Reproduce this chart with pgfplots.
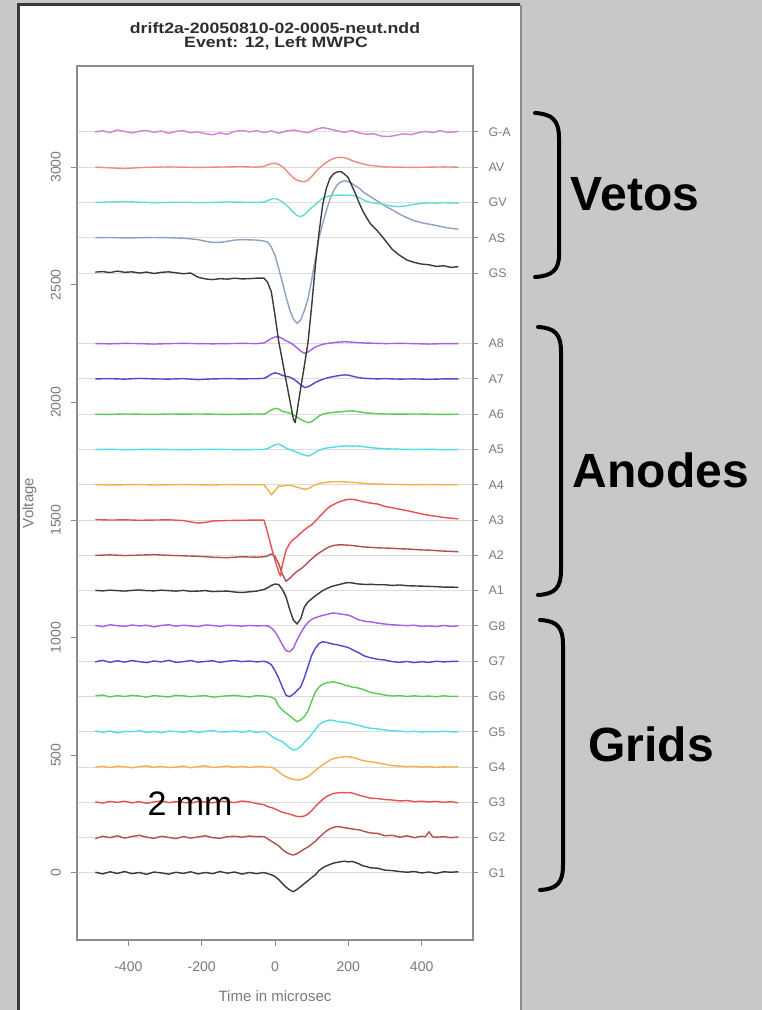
\documentclass[border=0pt]{standalone}
\usepackage{fontspec}
\setmainfont{Liberation Sans}
\usepackage{graphicx}
\usepackage{pgfplots}
\usepackage{pgfplotstable}
\pgfplotsset{compat=1.18}

\definecolor{bgGray}{HTML}{C8C8C8}
\definecolor{frameDark}{HTML}{3A3A3A}
\definecolor{frameMid}{HTML}{8A8A8A}
\definecolor{axGray}{HTML}{8C8C8C}
\definecolor{labGray}{HTML}{7A7A7A}
\definecolor{gridGray}{HTML}{DCDCDC}
\definecolor{titleGray}{HTML}{2E2E2E}
\definecolor{cBlack}{HTML}{3A3A3A}
\definecolor{cBrown}{HTML}{B4504C}
\definecolor{cRed}{HTML}{E4524F}
\definecolor{cOrange}{HTML}{F2B048}
\definecolor{cCyan}{HTML}{52DCE8}
\definecolor{cGreen}{HTML}{5ACB5A}
\definecolor{cBlue}{HTML}{4A4AD2}
\definecolor{cPurple}{HTML}{A55DE6}
\definecolor{cGA}{HTML}{D47FD8}
\definecolor{cAV}{HTML}{EE8C7C}
\definecolor{cGV}{HTML}{62DCD2}
\definecolor{cAS}{HTML}{8EA1C2}

% offsets from each channel's baseline, time in microsec
\pgfplotstableread[row sep=\\]{t v\\
-490 3\\ -470 -4\\ -450 5\\ -430 -2\\ -410 6\\ -390 -3\\ -370 2\\ -350 -6\\ -330 4\\ -310 0\\ -290 -5\\ -270 3\\
-250 -2\\ -230 5\\ -210 -4\\ -190 2\\ -170 -3\\ -150 6\\ -130 -1\\ -110 4\\ -90 -5\\ -70 2\\ -50 -3\\
-30 2\\ -20 -3\\ -10 -8\\ 0 -15\\ 10 -28\\ 20 -45\\ 30 -60\\ 40 -72\\ 50 -80\\ 60 -70\\ 70 -58\\ 80 -45\\ 90 -33\\
100 -20\\ 110 -8\\ 120 10\\ 130 22\\ 140 30\\ 150 36\\ 160 42\\ 170 45\\ 180 48\\ 190 50\\ 200 47\\ 210 49\\ 220 44\\
230 38\\ 240 30\\ 250 27\\ 260 22\\ 280 20\\ 300 12\\ 320 10\\ 340 6\\ 360 3\\ 380 6\\ 400 0\\ 420 4\\ 440 -2\\ 460 5\\ 480 3\\ 500 5\\
}\tGone
\pgfplotstableread[row sep=\\]{t v\\
-490 -4\\ -470 6\\ -450 0\\ -430 8\\ -410 -2\\ -390 5\\ -370 10\\ -350 2\\ -330 -3\\ -310 6\\ -290 1\\ -270 -4\\
-250 5\\ -230 -2\\ -210 3\\ -190 8\\ -170 0\\ -150 -3\\ -130 4\\ -110 6\\ -90 2\\ -70 7\\ -50 4\\
-30 5\\ -20 -5\\ -10 -15\\ 0 -25\\ 10 -35\\ 20 -50\\ 30 -62\\ 40 -70\\ 50 -74\\ 60 -68\\ 70 -58\\ 80 -48\\ 90 -40\\
100 -28\\ 110 -15\\ 120 0\\ 130 15\\ 140 28\\ 150 38\\ 160 44\\ 170 47\\ 180 45\\ 190 42\\ 200 40\\ 210 37\\ 220 35\\
230 33\\ 240 28\\ 250 24\\ 260 20\\ 280 18\\ 300 8\\ 320 10\\ 340 2\\ 360 8\\ 380 0\\ 400 6\\ 410 4\\ 420 25\\ 430 3\\ 440 2\\ 460 4\\ 480 0\\ 500 3\\
}\tGtwo
\pgfplotstableread[row sep=\\]{t v\\
-490 2\\ -470 -3\\ -450 4\\ -430 0\\ -410 5\\ -390 -2\\ -370 3\\ -350 -4\\ -330 2\\ -310 6\\ -290 -1\\ -270 3\\
-250 0\\ -230 -3\\ -210 4\\ -190 1\\ -170 -2\\ -150 5\\ -130 3\\ -110 -1\\ -90 6\\ -70 2\\ -50 -5\\
-30 -10\\ -20 -18\\ -10 -22\\ 0 -28\\ 10 -35\\ 20 -42\\ 30 -46\\ 40 -50\\ 50 -55\\ 60 -60\\ 70 -61\\ 80 -58\\ 90 -50\\
100 -35\\ 110 -18\\ 120 -2\\ 130 12\\ 140 24\\ 150 32\\ 160 38\\ 170 40\\ 180 42\\ 190 41\\ 200 42\\ 210 40\\ 220 35\\
230 30\\ 240 26\\ 250 22\\ 260 18\\ 280 16\\ 300 12\\ 320 10\\ 340 6\\ 360 8\\ 380 3\\ 400 5\\ 420 2\\ 440 4\\ 460 0\\ 480 3\\ 500 -2\\
}\tGthree
\pgfplotstableread[row sep=\\]{t v\\
-490 0\\ -470 3\\ -450 -2\\ -430 4\\ -410 1\\ -390 -3\\ -370 2\\ -350 5\\ -330 -1\\ -310 3\\ -290 -2\\ -270 0\\
-250 4\\ -230 -3\\ -210 2\\ -190 6\\ -170 -2\\ -150 1\\ -130 4\\ -110 -1\\ -90 3\\ -70 -2\\ -50 2\\
-30 2\\ -20 -2\\ -10 0\\ 0 -8\\ 10 -20\\ 20 -32\\ 30 -41\\ 40 -48\\ 50 -52\\ 60 -55\\ 70 -54\\ 80 -48\\ 90 -40\\
100 -28\\ 110 -15\\ 120 -2\\ 130 10\\ 140 20\\ 150 30\\ 160 36\\ 170 40\\ 180 42\\ 190 44\\ 200 44\\ 210 42\\ 220 38\\
230 32\\ 240 28\\ 250 25\\ 260 23\\ 280 18\\ 300 12\\ 320 6\\ 340 4\\ 360 2\\ 380 3\\ 400 0\\ 420 2\\ 440 -1\\ 460 1\\ 480 0\\ 500 1\\
}\tGfour
\pgfplotstableread[row sep=\\]{t v\\
-490 4\\ -470 -2\\ -450 3\\ -430 -5\\ -410 2\\ -390 0\\ -370 5\\ -350 -3\\ -330 2\\ -310 -4\\ -290 3\\ -270 1\\
-250 -2\\ -230 4\\ -210 -3\\ -190 2\\ -170 5\\ -150 -1\\ -130 0\\ -110 3\\ -90 -2\\ -70 4\\ -50 -3\\
-30 2\\ -20 -4\\ -10 -18\\ 0 -28\\ 10 -35\\ 20 -42\\ 30 -55\\ 40 -68\\ 50 -77\\ 60 -74\\ 70 -62\\ 80 -45\\ 90 -30\\
100 -10\\ 110 10\\ 120 30\\ 130 40\\ 140 46\\ 150 50\\ 160 48\\ 170 44\\ 180 42\\ 190 40\\ 200 38\\ 210 34\\ 220 30\\
230 27\\ 240 22\\ 250 18\\ 260 15\\ 280 12\\ 300 8\\ 320 4\\ 340 3\\ 360 0\\ 380 2\\ 400 -1\\ 420 1\\ 440 0\\ 460 2\\ 480 0\\ 500 -1\\
}\tGfive
\pgfplotstableread[row sep=\\]{t v\\
-490 3\\ -470 6\\ -450 -2\\ -430 4\\ -410 0\\ -390 5\\ -370 2\\ -350 -3\\ -330 4\\ -310 1\\ -290 -2\\ -270 5\\
-250 3\\ -230 -1\\ -210 2\\ -190 4\\ -170 -3\\ -150 0\\ -130 3\\ -110 5\\ -90 1\\ -70 -2\\ -50 4\\
-30 2\\ -20 0\\ -10 -3\\ 0 -10\\ 10 -40\\ 20 -58\\ 30 -70\\ 40 -82\\ 50 -95\\ 60 -107\\ 70 -100\\ 80 -85\\ 90 -62\\
100 -20\\ 110 20\\ 120 40\\ 130 52\\ 140 58\\ 150 60\\ 160 63\\ 170 58\\ 180 55\\ 190 48\\ 200 45\\ 210 40\\ 220 38\\
230 35\\ 240 30\\ 250 24\\ 260 18\\ 280 12\\ 300 6\\ 320 2\\ 340 4\\ 360 0\\ 380 3\\ 400 0\\ 420 2\\ 440 -1\\ 460 3\\ 480 0\\ 500 1\\
}\tGsix
\pgfplotstableread[row sep=\\]{t v\\
-490 -3\\ -470 4\\ -450 -5\\ -430 2\\ -410 -4\\ -390 3\\ -370 -2\\ -350 -6\\ -330 1\\ -310 -3\\ -290 4\\ -270 -5\\
-250 -2\\ -230 3\\ -210 -4\\ -190 -1\\ -170 2\\ -150 -5\\ -130 0\\ -110 3\\ -90 -2\\ -70 1\\ -50 -3\\
-30 0\\ -20 -5\\ -10 -15\\ 0 -40\\ 10 -72\\ 20 -110\\ 30 -145\\ 40 -151\\ 50 -140\\ 60 -125\\ 70 -110\\ 80 -70\\ 90 -23\\
100 25\\ 110 55\\ 120 75\\ 130 83\\ 140 80\\ 150 76\\ 160 72\\ 170 70\\ 180 66\\ 190 62\\ 200 58\\ 210 50\\ 220 42\\
230 35\\ 240 25\\ 250 19\\ 260 15\\ 280 8\\ 300 5\\ 320 -2\\ 340 -5\\ 360 -1\\ 380 -6\\ 400 -2\\ 420 -5\\ 440 0\\ 460 -3\\ 480 -1\\ 500 -1\\
}\tGseven
\pgfplotstableread[row sep=\\]{t v\\
-490 2\\ -470 -3\\ -450 5\\ -430 1\\ -410 -2\\ -390 4\\ -370 0\\ -350 3\\ -330 -4\\ -310 2\\ -290 5\\ -270 -1\\
-250 3\\ -230 0\\ -210 -3\\ -190 4\\ -170 2\\ -150 -2\\ -130 3\\ -110 1\\ -90 -1\\ -70 2\\ -50 0\\
-30 1\\ -20 0\\ -10 -8\\ 0 -25\\ 10 -50\\ 20 -80\\ 30 -105\\ 40 -110\\ 50 -95\\ 60 -60\\ 70 -30\\ 80 -5\\ 90 15\\
100 28\\ 110 35\\ 120 40\\ 130 45\\ 140 48\\ 150 52\\ 160 55\\ 170 53\\ 180 50\\ 190 48\\ 200 46\\ 210 40\\ 220 32\\
230 25\\ 240 22\\ 250 18\\ 260 18\\ 280 12\\ 300 8\\ 320 5\\ 340 3\\ 360 1\\ 380 3\\ 400 -2\\ 420 0\\ 440 -3\\ 460 2\\ 480 -2\\ 500 0\\
}\tGeight
\pgfplotstableread[row sep=\\]{t v\\
-490 1\\ -470 -1\\ -450 2\\ -430 0\\ -410 -2\\ -390 1\\ -370 3\\ -350 0\\ -330 -1\\ -310 2\\ -290 0\\ -270 -2\\
-250 1\\ -230 -3\\ -210 -2\\ -190 0\\ -170 -4\\ -150 -3\\ -130 -2\\ -110 -6\\ -90 -8\\ -70 -5\\ -50 -2\\
-30 5\\ -20 12\\ -10 22\\ 0 28\\ 10 26\\ 20 5\\ 30 -26\\ 40 -80\\ 50 -125\\ 60 -142\\ 70 -120\\ 80 -70\\ 90 -48\\
100 -35\\ 110 -22\\ 120 -11\\ 130 0\\ 140 8\\ 150 15\\ 160 20\\ 170 24\\ 180 28\\ 190 32\\ 200 34\\ 210 33\\ 220 30\\
230 28\\ 240 27\\ 250 26\\ 260 27\\ 280 25\\ 300 25\\ 320 22\\ 340 24\\ 360 21\\ 380 20\\ 400 19\\ 420 18\\ 440 17\\ 460 15\\ 480 15\\ 500 14\\
}\tAone
\pgfplotstableread[row sep=\\]{t v\\
-490 0\\ -450 2\\ -410 -1\\ -370 1\\ -330 3\\ -290 0\\ -250 -2\\ -210 -4\\ -170 -8\\ -130 -10\\ -90 -6\\ -50 -8\\
-30 -6\\ -20 -2\\ -10 6\\ 0 -5\\ 10 -35\\ 20 -80\\ 30 -110\\ 40 -98\\ 50 -82\\ 60 -68\\ 70 -58\\ 80 -45\\ 90 -30\\
100 -15\\ 110 -2\\ 120 10\\ 130 20\\ 140 30\\ 150 37\\ 160 42\\ 170 44\\ 180 45\\ 190 44\\ 200 43\\ 210 42\\ 220 40\\
230 38\\ 240 36\\ 250 35\\ 260 34\\ 280 32\\ 300 31\\ 320 30\\ 340 28\\ 360 27\\ 380 25\\ 400 23\\ 420 22\\ 440 20\\ 460 18\\ 480 17\\ 500 15\\
}\tAtwo
\pgfplotstableread[row sep=\\]{t v\\
-490 2\\ -450 0\\ -410 1\\ -370 -1\\ -330 0\\ -290 1\\ -250 -2\\ -230 -8\\ -210 -13\\ -190 -10\\ -170 -4\\ -130 -2\\ -90 -1\\ -50 0\\
-30 0\\ -20 -55\\ -10 -115\\ 0 -170\\ 10 -220\\ 15 -238\\ 20 -190\\ 30 -128\\ 40 -100\\ 50 -82\\ 60 -71\\ 70 -55\\ 80 -42\\ 90 -30\\
100 -20\\ 110 -5\\ 120 12\\ 130 28\\ 140 45\\ 150 58\\ 160 66\\ 170 74\\ 180 80\\ 190 85\\ 200 88\\ 210 88\\ 220 86\\
230 82\\ 240 78\\ 250 75\\ 260 72\\ 280 68\\ 300 58\\ 320 52\\ 340 46\\ 360 40\\ 380 33\\ 400 26\\ 420 20\\ 440 16\\ 460 11\\ 480 8\\ 500 5\\
}\tAthree
\pgfplotstableread[row sep=\\]{t v\\
-490 1\\ -450 -1\\ -410 0\\ -370 1\\ -330 -1\\ -290 0\\ -250 1\\ -210 0\\ -170 -1\\ -130 1\\ -90 0\\ -50 0\\
-30 0\\ -20 -20\\ -10 -43\\ 0 -25\\ 10 -5\\ 20 -6\\ 30 -3\\ 40 -2\\ 50 -6\\ 60 -10\\ 70 -15\\ 80 -19\\ 90 -17\\
100 -8\\ 110 0\\ 120 5\\ 130 8\\ 140 10\\ 150 12\\ 160 13\\ 170 13\\ 180 13\\ 190 12\\ 200 11\\ 210 10\\ 220 9\\
230 8\\ 240 6\\ 250 5\\ 260 4\\ 280 3\\ 300 2\\ 340 1\\ 380 0\\ 420 1\\ 460 0\\ 500 0\\
}\tAfour
\pgfplotstableread[row sep=\\]{t v\\
-490 0\\ -450 1\\ -410 -1\\ -370 0\\ -330 1\\ -290 0\\ -250 -1\\ -210 0\\ -170 1\\ -130 0\\ -90 -1\\ -50 0\\
-30 0\\ -20 4\\ -10 12\\ 0 20\\ 10 23\\ 20 15\\ 30 6\\ 40 0\\ 50 -6\\ 60 -12\\ 70 -18\\ 80 -24\\ 90 -28\\
100 -22\\ 110 -12\\ 120 -4\\ 130 2\\ 140 6\\ 150 8\\ 160 10\\ 170 12\\ 180 14\\ 190 15\\ 200 15\\ 210 14\\ 220 15\\
230 14\\ 240 12\\ 250 10\\ 260 8\\ 280 5\\ 300 3\\ 320 2\\ 340 1\\ 380 0\\ 420 1\\ 460 -1\\ 500 0\\
}\tAfive
\pgfplotstableread[row sep=\\]{t v\\
-490 0\\ -450 -1\\ -410 1\\ -370 0\\ -330 -1\\ -290 1\\ -250 0\\ -210 1\\ -170 0\\ -130 -1\\ -90 0\\ -50 1\\
-30 0\\ -20 8\\ -10 18\\ 0 25\\ 10 22\\ 20 12\\ 30 8\\ 40 5\\ 50 -3\\ 60 -12\\ 70 -22\\ 80 -30\\ 90 -36\\
100 -32\\ 110 -20\\ 120 -8\\ 130 0\\ 140 4\\ 150 6\\ 160 8\\ 170 9\\ 180 10\\ 190 12\\ 200 13\\ 210 14\\ 220 12\\
230 10\\ 240 7\\ 250 5\\ 260 4\\ 280 2\\ 300 1\\ 340 0\\ 380 1\\ 420 0\\ 460 -1\\ 500 0\\
}\tAsix
\pgfplotstableread[row sep=\\]{t v\\
-490 0\\ -450 1\\ -410 -1\\ -370 2\\ -330 0\\ -290 -1\\ -250 1\\ -210 -3\\ -170 0\\ -130 1\\ -90 0\\ -50 1\\
-30 2\\ -20 10\\ -10 20\\ 0 26\\ 10 22\\ 20 15\\ 30 10\\ 40 8\\ 50 0\\ 60 -12\\ 70 -25\\ 80 -36\\ 90 -34\\
100 -25\\ 110 -15\\ 120 -8\\ 130 -2\\ 140 3\\ 150 7\\ 160 10\\ 170 13\\ 180 15\\ 190 17\\ 200 16\\ 210 12\\ 220 8\\
230 5\\ 240 3\\ 250 2\\ 260 1\\ 280 0\\ 300 1\\ 340 -1\\ 380 0\\ 420 -2\\ 460 0\\ 500 0\\
}\tAseven
\pgfplotstableread[row sep=\\]{t v\\
-490 0\\ -450 -1\\ -410 1\\ -370 0\\ -330 -2\\ -290 0\\ -250 1\\ -210 0\\ -170 -1\\ -130 0\\ -90 1\\ -50 0\\
-30 3\\ -20 12\\ -10 22\\ 0 28\\ 10 29\\ 20 22\\ 30 12\\ 40 5\\ 50 -5\\ 60 -18\\ 70 -32\\ 80 -41\\ 90 -36\\
100 -25\\ 110 -15\\ 120 -8\\ 130 -3\\ 140 0\\ 150 2\\ 160 4\\ 170 6\\ 180 7\\ 190 8\\ 200 7\\ 210 6\\ 220 5\\
230 4\\ 240 3\\ 250 2\\ 260 2\\ 280 1\\ 300 0\\ 340 1\\ 380 0\\ 420 -2\\ 460 0\\ 500 0\\
}\tAeight
\pgfplotstableread[row sep=\\]{t v\\
-490 4\\ -470 6\\ -450 2\\ -430 8\\ -410 3\\ -390 5\\ -370 0\\ -350 4\\ -330 -2\\ -310 3\\ -290 5\\ -270 1\\
-250 -3\\ -230 0\\ -210 -18\\ -190 -25\\ -170 -28\\ -150 -24\\ -130 -26\\ -110 -22\\ -90 -25\\ -70 -24\\ -50 -22\\
-30 -22\\ -20 -40\\ -10 -80\\ 0 -180\\ 10 -290\\ 20 -372\\ 30 -455\\ 40 -537\\ 50 -620\\ 55 -636\\ 60 -590\\ 70 -490\\ 80 -395\\ 90 -295\\
100 -140\\ 110 30\\ 120 170\\ 130 290\\ 140 360\\ 150 403\\ 160 422\\ 170 430\\ 180 431\\ 190 420\\ 200 405\\ 210 370\\ 220 335\\
230 296\\ 240 262\\ 250 235\\ 260 210\\ 280 178\\ 300 140\\ 320 100\\ 340 75\\ 360 55\\ 380 45\\ 400 38\\ 420 35\\ 440 28\\ 460 31\\ 480 24\\ 500 27\\
}\tGS
\pgfplotstableread[row sep=\\]{t v\\
-490 0\\ -450 1\\ -410 -1\\ -370 0\\ -330 1\\ -290 0\\ -250 -2\\ -210 -8\\ -190 -15\\ -170 -20\\ -150 -20\\ -130 -15\\ -110 -10\\ -90 -8\\ -70 -9\\ -50 -10\\
-30 -14\\ -20 -18\\ -10 -40\\ 0 -75\\ 10 -130\\ 20 -190\\ 30 -250\\ 40 -305\\ 50 -345\\ 60 -364\\ 70 -350\\ 80 -310\\ 90 -260\\
100 -180\\ 110 -90\\ 120 0\\ 130 60\\ 140 115\\ 150 165\\ 160 200\\ 170 225\\ 180 238\\ 190 242\\ 200 238\\ 210 230\\ 220 220\\
230 210\\ 240 195\\ 250 185\\ 260 175\\ 280 155\\ 300 135\\ 320 118\\ 340 100\\ 360 85\\ 380 72\\ 400 64\\ 420 58\\ 440 52\\ 460 45\\ 480 40\\ 500 36\\
}\tAS
\pgfplotstableread[row sep=\\]{t v\\
-490 0\\ -450 2\\ -410 4\\ -370 1\\ -330 -1\\ -290 0\\ -250 1\\ -210 -1\\ -170 0\\ -130 2\\ -90 1\\ -50 0\\
-30 2\\ -20 8\\ -10 14\\ 0 17\\ 10 12\\ 20 2\\ 30 -10\\ 40 -25\\ 50 -42\\ 60 -55\\ 70 -61\\ 80 -52\\ 90 -38\\
100 -22\\ 110 -10\\ 120 5\\ 130 18\\ 140 25\\ 150 28\\ 160 30\\ 170 31\\ 180 31\\ 190 30\\ 200 31\\ 210 30\\ 220 28\\
230 20\\ 240 12\\ 250 5\\ 260 0\\ 280 -4\\ 300 -10\\ 320 -16\\ 340 -18\\ 360 -14\\ 380 -8\\ 400 -4\\ 420 -2\\ 440 -3\\ 460 -1\\ 480 -2\\ 500 -3\\
}\tGV
\pgfplotstableread[row sep=\\]{t v\\
-490 0\\ -450 -3\\ -410 -6\\ -370 -2\\ -330 0\\ -290 1\\ -250 0\\ -210 -1\\ -170 0\\ -130 1\\ -90 2\\ -50 0\\
-30 3\\ -20 10\\ -10 15\\ 0 16\\ 10 12\\ 20 2\\ 30 -12\\ 40 -30\\ 50 -45\\ 60 -56\\ 70 -60\\ 80 -62\\ 90 -55\\
100 -40\\ 110 -22\\ 120 -5\\ 130 8\\ 140 20\\ 150 30\\ 160 37\\ 170 41\\ 180 42\\ 190 40\\ 200 35\\ 210 28\\ 220 22\\
230 18\\ 240 14\\ 250 10\\ 260 7\\ 280 4\\ 300 1\\ 340 0\\ 380 -1\\ 420 0\\ 460 1\\ 500 0\\
}\tAV
\pgfplotstableread[row sep=\\]{t v\\
-490 0\\ -470 5\\ -450 -3\\ -430 8\\ -410 2\\ -390 -5\\ -370 3\\ -350 6\\ -330 -2\\ -310 4\\ -290 -6\\ -270 2\\
-250 5\\ -230 -4\\ -210 0\\ -190 -8\\ -170 -12\\ -150 -4\\ -130 -10\\ -110 2\\ -90 6\\ -70 0\\ -50 5\\
-30 -3\\ -10 4\\ 10 -6\\ 30 3\\ 50 8\\ 70 2\\ 90 -4\\ 110 10\\ 130 18\\ 150 12\\ 170 4\\ 190 -2\\ 210 6\\
230 -5\\ 250 -10\\ 270 -8\\ 290 -18\\ 310 -20\\ 330 -15\\ 350 -8\\ 370 -12\\ 390 -4\\ 410 2\\ 430 -3\\ 450 5\\ 470 -2\\ 490 0\\ 500 3\\
}\tGA

\pgfplotsset{
  tracebox/.style={at={(77pt,70pt)}, anchor=south west, scale only axis,
    width=396pt, height=874pt, xmin=-540, xmax=540, ymin=-285, ymax=3430},
  tr/.style={line width=1.4pt, line join=round, no markers},
}

\begin{document}
\begin{tikzpicture}[x=1pt,y=1pt]
\useasboundingbox (0,0) rectangle (762,1010);
\fill[bgGray] (0,0) rectangle (762,1010);
\fill[white] (19,0) rectangle (520,1005);
\draw[frameDark, line width=2.5pt] (18.5,0) -- (18.5,1005.5) -- (520,1005.5);
\draw[frameMid, line width=2pt] (521,0) -- (521,1005);

% channel names on the right, with their baselines
\begin{axis}[tracebox,
    axis x line=none, axis y line*=right,
    y axis line style={draw=axGray, line width=1.2pt},
    ytick={0,150,300,450,600,750,900,1050,1200,1350,1500,1650,1800,1950,2100,2250,2550,2700,2850,3000,3150},
    yticklabels={G1,G2,G3,G4,G5,G6,G7,G8,A1,A2,A3,A4,A5,A6,A7,A8,GS,AS,GV,AV,G-A},
    ymajorgrids, grid style={draw=gridGray, line width=1pt},
    tick align=outside, major tick length=5pt,
    tick style={draw=axGray, line width=1pt},
    yticklabel style={font=\fontsize{12.5}{13}\selectfont, text=labGray, anchor=west, xshift=7pt},
  ]
\end{axis}

\begin{axis}[tracebox,
    axis line style={draw=axGray, line width=1.2pt},
    tick style={draw=axGray, line width=1pt},
    tick align=outside, major tick length=6pt, tick pos=left,
    xtick={-400,-200,0,200,400},
    ytick={0,500,1000,1500,2000,2500,3000},
    /pgf/number format/assume math mode=true,
    /pgf/number format/1000 sep={},
    ticklabel style={font=\fontsize{14}{14}\selectfont, text=labGray},
    xticklabel style={yshift=-12pt},
    yticklabel style={rotate=90, anchor=south, inner ysep=10pt},
    xlabel={Time in microsec}, ylabel={Voltage},
    label style={font=\fontsize{15}{15}\selectfont, text=labGray},
    xlabel style={at={(axis description cs:0.5,-0.064)}, anchor=center},
    ylabel style={at={(axis description cs:-0.12,0.5)}, anchor=center},
  ]
\addplot[tr, cBlack]  table[x=t, y expr=\thisrow{v}+0]    {\tGone};
\addplot[tr, cBrown]  table[x=t, y expr=\thisrow{v}+150]  {\tGtwo};
\addplot[tr, cRed]    table[x=t, y expr=\thisrow{v}+300]  {\tGthree};
\addplot[tr, cOrange] table[x=t, y expr=\thisrow{v}+450]  {\tGfour};
\addplot[tr, cCyan]   table[x=t, y expr=\thisrow{v}+600]  {\tGfive};
\addplot[tr, cGreen]  table[x=t, y expr=\thisrow{v}+750]  {\tGsix};
\addplot[tr, cBlue]   table[x=t, y expr=\thisrow{v}+900]  {\tGseven};
\addplot[tr, cPurple] table[x=t, y expr=\thisrow{v}+1050] {\tGeight};
\addplot[tr, cBlack]  table[x=t, y expr=\thisrow{v}+1200] {\tAone};
\addplot[tr, cBrown]  table[x=t, y expr=\thisrow{v}+1350] {\tAtwo};
\addplot[tr, cRed]    table[x=t, y expr=\thisrow{v}+1500] {\tAthree};
\addplot[tr, cOrange] table[x=t, y expr=\thisrow{v}+1650] {\tAfour};
\addplot[tr, cCyan]   table[x=t, y expr=\thisrow{v}+1800] {\tAfive};
\addplot[tr, cGreen]  table[x=t, y expr=\thisrow{v}+1950] {\tAsix};
\addplot[tr, cBlue]   table[x=t, y expr=\thisrow{v}+2100] {\tAseven};
\addplot[tr, cPurple] table[x=t, y expr=\thisrow{v}+2250] {\tAeight};
\addplot[tr, cAS]     table[x=t, y expr=\thisrow{v}+2700] {\tAS};
\addplot[tr, cGV]     table[x=t, y expr=\thisrow{v}+2850] {\tGV};
\addplot[tr, cAV]     table[x=t, y expr=\thisrow{v}+3000] {\tAV};
\addplot[tr, cGA]     table[x=t, y expr=\thisrow{v}+3150] {\tGA};
\addplot[tr, cBlack]  table[x=t, y expr=\thisrow{v}+2550] {\tGS};
\end{axis}

\node[font=\bfseries\fontsize{15}{15}\selectfont, text=titleGray] at (275,982)
  {\scalebox{1.18}[1]{drift2a-20050810-02-0005-neut.ndd}};
\node[font=\bfseries\fontsize{15}{15}\selectfont, text=titleGray] at (276,967)
  {\scalebox{1.18}[1]{Event: 12, Left MWPC}};

\node[font=\fontsize{34}{34}\selectfont, inner sep=0pt] at (190,206) {2 mm};

% group braces
\draw[line width=4pt, line cap=round] (535,897) .. controls (552,896) and (559,890) .. (559,872)
  -- (559,755) .. controls (559,740) and (552,734) .. (535,733);
\draw[line width=4pt, line cap=round] (538,683) .. controls (555,682) and (561,676) .. (561,658)
  -- (561,440) .. controls (561,422) and (555,416) .. (538,415);
\draw[line width=4pt, line cap=round] (540,390) .. controls (557,389) and (563,383) .. (563,365)
  -- (563,145) .. controls (563,127) and (557,121) .. (540,120);

\node[font=\bfseries\fontsize{48}{48}\selectfont, inner sep=0pt] at (635,816) {Vetos};
\node[font=\bfseries\fontsize{48}{48}\selectfont, inner sep=0pt] at (661,540) {Anodes};
\node[font=\bfseries\fontsize{48}{48}\selectfont, inner sep=0pt] at (651,266) {Grids};
\end{tikzpicture}
\end{document}
